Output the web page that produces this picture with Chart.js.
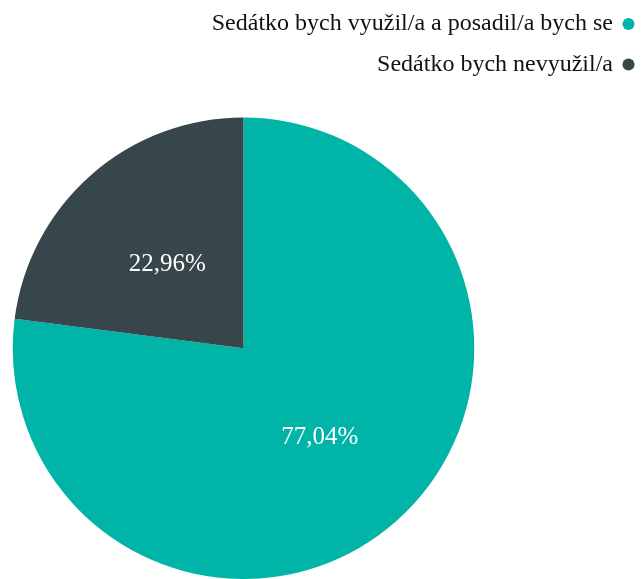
<!DOCTYPE html>
<html lang="cs">
<head>
<meta charset="utf-8">
<script src="https://cdn.jsdelivr.net/npm/chart.js@4/dist/chart.umd.min.js"></script>
<style>
  html, body { margin: 0; padding: 0; background: #fff; }
  #wrap { width: 641px; height: 579px; position: relative; }
</style>
</head>
<body>
<div id="wrap"><canvas id="chart-seat"></canvas></div>
<script>
const answerLabels = ['Sedátko bych využil/a a posadil/a bych se', 'Sedátko bych nevyužil/a'];
const answerShares = [77.04, 22.96];
const answerColors = ['#00b5a7', '#37464a'];

const serif = '"Liberation Serif", "Times New Roman", serif';

// prázdné boxy v layoutu - koláč vlevo pod legendou
const spacers = {
  id: 'spacers',
  beforeInit(chart) {
    Chart.layouts.addBox(chart, {
      position: 'right', weight: 0, fullSize: false, options: {},
      update(maxWidth, maxHeight) { this.width = 173.5; this.height = maxHeight; },
      isHorizontal() { return false; },
      draw() {}
    });
    Chart.layouts.addBox(chart, {
      position: 'top', weight: 0, fullSize: false, options: {},
      update(maxWidth) { this.width = maxWidth; this.height = 31; },
      isHorizontal() { return true; },
      draw() {}
    });
  }
};

// popisky procent uprostřed výseče
const sliceLabels = {
  id: 'sliceLabels',
  afterDatasetsDraw(chart) {
    const { ctx } = chart;
    const meta = chart.getDatasetMeta(0);
    ctx.save();
    ctx.font = '25px ' + serif;
    ctx.fillStyle = '#ffffff';
    ctx.textAlign = 'center';
    ctx.textBaseline = 'middle';
    meta.data.forEach((arc, i) => {
      const p = arc.getProps(['x', 'y', 'startAngle', 'endAngle', 'innerRadius', 'outerRadius'], true);
      const mid = (p.startAngle + p.endAngle) / 2;
      const r = (p.innerRadius + p.outerRadius) / 2;
      const text = answerShares[i].toFixed(2).replace('.', ',') + '%';
      ctx.fillText(text, p.x + Math.cos(mid) * r, p.y + Math.sin(mid) * r + 3);
    });
    ctx.restore();
  }
};

new Chart(document.getElementById('chart-seat'), {
  type: 'pie',
  data: {
    labels: answerLabels,
    datasets: [{
      data: answerShares,
      backgroundColor: answerColors,
      borderWidth: 0
    }]
  },
  options: {
    responsive: true,
    maintainAspectRatio: false,
    animation: false,
    layout: { padding: { left: 12, right: -7.5, top: -4.5, bottom: -1.5 } },
    plugins: {
      legend: {
        position: 'top',
        align: 'start',
        rtl: true,
        labels: {
          usePointStyle: true,
          pointStyle: 'circle',
          boxWidth: 7,
          boxHeight: 8.5,
          padding: 16.5,
          color: '#111',
          font: { family: serif, size: 24 }
        }
      },
      tooltip: { enabled: false }
    }
  },
  plugins: [spacers, sliceLabels]
});
</script>
</body>
</html>
